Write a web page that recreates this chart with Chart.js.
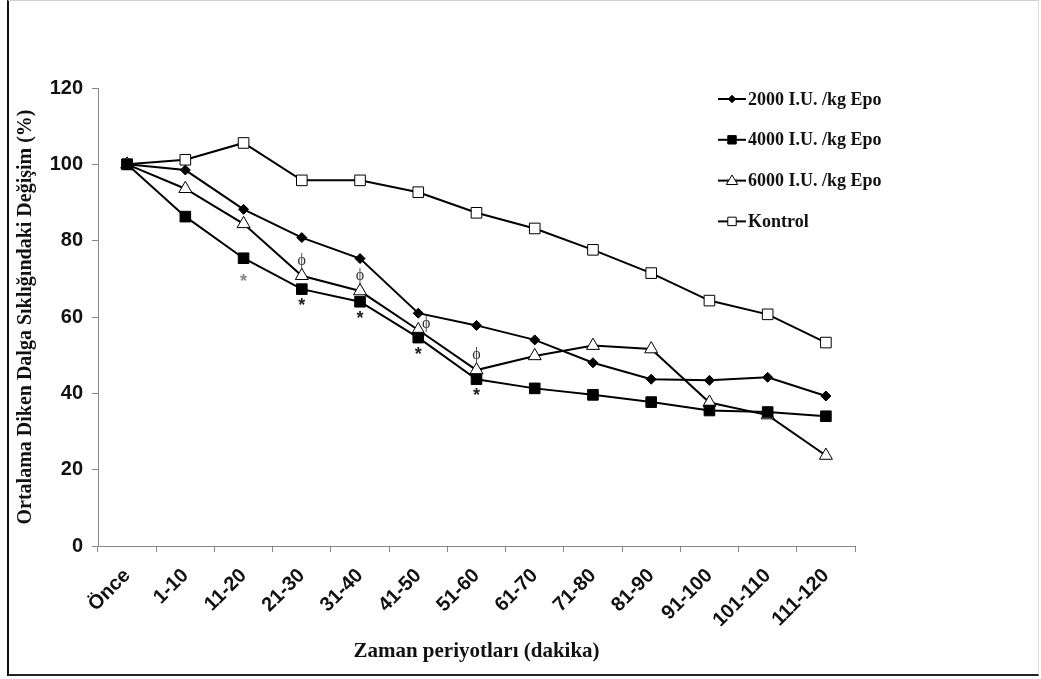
<!DOCTYPE html>
<html>
<head>
<meta charset="utf-8">
<script src="https://cdn.jsdelivr.net/npm/chart.js@4"></script>
<style>
  html, body { margin: 0; padding: 0; background: #fff; }
  #wrap {
    position: absolute; left: 0; top: 0;
    width: 1041px; height: 679px;
  }
  #frame {
    position: absolute; left: 7px; top: 0; width: 1032px; height: 676px;
    border-top: 1px solid #d0d0d0; border-right: 1px solid #dcdcdc;
    border-left: 2px solid #111; border-bottom: 2px solid #222;
    box-sizing: border-box; pointer-events: none;
  }
</style>
</head>
<body>
<div id="wrap">
  <canvas id="c" width="1041" height="679"></canvas>
  <div id="frame"></div>
</div>
<script>
// categories (time periods)
const periods = ['Önce', '1-10', '11-20', '21-30', '31-40', '41-50', '51-60',
                 '61-70', '71-80', '81-90', '91-100', '101-110', '111-120'];

// series values (% change)
const epo2000 = [100, 98.5, 88.2, 80.8, 75.3, 61.0, 57.8, 54.0, 48.0, 43.7, 43.4, 44.2, 39.3];
const epo4000 = [100, 86.3, 75.4, 67.3, 64.0, 54.6, 43.7, 41.3, 39.6, 37.7, 35.5, 35.1, 34.0];
const epo6000 = [100, 93.6, 84.4, 70.8, 66.8, 56.6, 46.1, 49.8, 52.5, 51.6, 37.6, 34.3, 23.7];
const kontrol = [100, 101.2, 105.6, 95.8, 95.8, 92.7, 87.3, 83.2, 77.6, 71.5, 64.3, 60.7, 53.3];

const seriesNames = ['2000 I.U. /kg Epo', '4000 I.U. /kg Epo', '6000 I.U. /kg Epo', 'Kontrol'];

// y ticks
const yMin = 0, yMax = 120, yStep = 20;

// significance marks: phi above 6000 series, star below 4000 series
const phiIdx = [3, 4, 5, 6];
const starIdx = [2, 3, 4, 5, 6];

const fontSans = '"Liberation Sans", Arial, sans-serif';
const fontSerif = '"Liberation Serif", "Times New Roman", serif';

const marksPlugin = {
    id: 'marks',
    afterDatasetsDraw(chart) {
        const ctx = chart.ctx;
        const x = chart.scales.x, y = chart.scales.y;
        ctx.save();
        ctx.textAlign = 'center';
        ctx.textBaseline = 'middle';
        // phi
        ctx.fillStyle = '#333';
        ctx.font = '16px ' + fontSerif;
        phiIdx.forEach(i => {
            let px = x.getPixelForValue(i);
            let py = y.getPixelForValue(epo6000[i]) - 15;
            if (i === 5) { px += 8; py += 9; }
            ctx.fillText('ϕ', px, py);
        });
        // stars
        starIdx.forEach(i => {
            const px = x.getPixelForValue(i);
            const py = y.getPixelForValue(epo4000[i]) + (i === 2 ? 21 : 14);
            ctx.fillStyle = i === 2 ? '#888' : '#222';
            ctx.font = 'bold 18px ' + fontSans;
            ctx.fillText('*', px, py + 3);
        });
        ctx.restore();
    }
};

const legendPlugin = {
    id: 'sideLegend',
    afterDraw(chart) {
        const ctx = chart.ctx;
        const x0 = 718, y0 = 99, gap = 40.8;
        ctx.save();
        chart.data.datasets.forEach((ds, i) => {
            const cy = y0 + i * gap;
            ctx.strokeStyle = '#000';
            ctx.lineWidth = 2;
            ctx.beginPath();
            ctx.moveTo(x0, cy);
            ctx.lineTo(x0 + 28, cy);
            ctx.stroke();
            ctx.fillStyle = ds.pointBackgroundColor;
            ctx.strokeStyle = '#000';
            ctx.lineWidth = 1;
            ctx.beginPath();
            drawMarker(ctx, ds.pointStyle, x0 + 14, cy, ds.pointRadius * 0.75);
            ctx.fill();
            ctx.stroke();
            ctx.fillStyle = '#111';
            ctx.font = 'bold 18px ' + fontSerif;
            ctx.textAlign = 'left';
            ctx.textBaseline = 'middle';
            ctx.fillText(seriesNames[i], x0 + 30, cy + 1);
        });
        ctx.restore();
    }
};

function drawMarker(ctx, style, cx, cy, r) {
    if (style === 'rectRot') {
        ctx.moveTo(cx, cy - r); ctx.lineTo(cx + r, cy); ctx.lineTo(cx, cy + r); ctx.lineTo(cx - r, cy); ctx.closePath();
    } else if (style === 'triangle') {
        ctx.moveTo(cx, cy - r); ctx.lineTo(cx + r, cy + r * 0.7); ctx.lineTo(cx - r, cy + r * 0.7); ctx.closePath();
    } else {
        const s = r * 0.75;
        ctx.rect(cx - s, cy - s, 2 * s, 2 * s);
    }
}

function makeSet(label, data, style, fill, radius) {
    return {
        label: label,
        data: data,
        borderColor: '#000',
        borderWidth: 2,
        pointStyle: style,
        pointRadius: radius,
        pointBackgroundColor: fill,
        pointBorderColor: '#000',
        pointBorderWidth: 1,
        tension: 0,
        fill: false
    };
}

new Chart(document.getElementById('c'), {
    type: 'line',
    data: {
        labels: periods,
        datasets: [
            makeSet(seriesNames[0], epo2000, 'rectRot', '#000', 5),
            makeSet(seriesNames[1], epo4000, 'rect', '#000', 7.5),
            makeSet(seriesNames[2], epo6000, 'triangle', '#fff', 7.5),
            makeSet(seriesNames[3], kontrol, 'rect', '#fff', 7.5)
        ]
    },
    options: {
        responsive: false,
        animation: false,
        layout: { padding: { left: 10, right: 186, top: 88, bottom: 11 } },
        plugins: {
            legend: { display: false },
            tooltip: { enabled: false }
        },
        scales: {
            x: {
                offset: true,
                grid: { offset: true, drawOnChartArea: false, color: '#888', tickLength: 6 },
                border: { color: '#888', width: 1 },
                ticks: {
                    color: '#111',
                    font: { family: fontSans, size: 20, weight: 'bold' },
                    maxRotation: 45, minRotation: 45, padding: 12
                },
                title: {
                    display: true,
                    text: 'Zaman periyotları (dakika)',
                    color: '#111',
                    font: { family: fontSerif, size: 21, weight: 'bold' }
                },
                afterFit: (s) => { s.height = 679 - 11 - 546; }
            },
            y: {
                min: yMin, max: yMax,
                grid: { drawOnChartArea: false, color: '#888', tickLength: 6 },
                border: { color: '#888', width: 1 },
                ticks: {
                    stepSize: yStep,
                    color: '#111',
                    font: { family: fontSans, size: 20, weight: 'bold' },
                    padding: 9
                },
                title: {
                    display: true,
                    text: 'Ortalama Diken Dalga Sıklığındaki Değişim (%)',
                    color: '#111',
                    font: { family: fontSerif, size: 20, weight: 'bold' }
                },
                afterFit: (s) => { s.width = 98 - 10; }
            }
        }
    },
    plugins: [marksPlugin, legendPlugin]
});
</script>
</body>
</html>
